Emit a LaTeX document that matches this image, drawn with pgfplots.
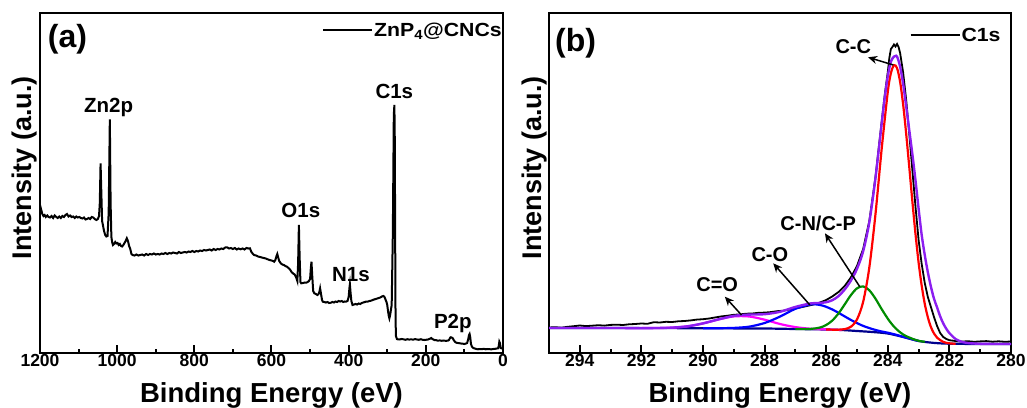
\documentclass[border=0pt]{standalone}
\usepackage{fontspec}
\setmainfont{Liberation Sans}
\usepackage{pgfplots}
\pgfplotsset{compat=1.18}
\usetikzlibrary{arrows.meta}
\newcommand{\fs}[1]{\fontsize{#1}{#1}\selectfont\bfseries}
\definecolor{cpurple}{RGB}{140,30,240}
\definecolor{cmag}{RGB}{255,0,255}
\definecolor{cnavy}{RGB}{0,0,140}
\definecolor{cblue}{RGB}{0,0,255}
\definecolor{cgreen}{RGB}{0,140,0}
\definecolor{cred}{RGB}{255,0,0}
\pgfplotsset{
  xps/.style={
    scale only axis, height=340pt, anchor=south west,
    x dir=reverse, ymin=0, ymax=340, ytick=\empty,
    axis line style={line width=2pt},
    major tick style={line width=2pt, black},
    minor tick style={line width=2pt, black},
    major tick length=8pt, minor tick length=4pt,
    xtick pos=left, tick align=inside, minor x tick num=1,
    /pgf/number format/assume math mode=true,
    /pgf/number format/1000 sep={},
    xticklabel style={font=\fs{17.5}, yshift=2pt},
    every axis x label/.style={at={(axis description cs:0.5,-0.147)}, anchor=base, font=\fs{27.5}},
    every axis y label/.style={at={(axis description cs:-0.0173,0.545)}, rotate=90, anchor=base, font=\fs{27}},
    xlabel={Binding Energy (eV)}, ylabel={Intensity (a.u.)},
    clip=false,
    legend style={draw=none, fill=none, font=\fs{19}, inner sep=0pt,
      nodes={inner sep=1pt}},
    legend image code/.code={\draw[#1, line width=1.8pt] (0pt,0pt) -- (49pt,0pt);},
  }
}
\begin{document}
\begin{tikzpicture}
\path[use as bounding box] (0,0) rectangle (1027pt,407pt);
% ---------------- (a) ----------------
\begin{axis}[xps, at={(40pt,54pt)}, width=463pt,
  xmin=0, xmax=1200, xtick={0,200,...,1200},
  legend style={at={(axis description cs:1,0.975)}, anchor=north east}]
\addplot[black, line width=2pt] coordinates {
(1200,148) (1198,145) (1196,142) (1194,139) (1191,137) (1188,138) (1185,136) (1181,137.5)
(1178,136) (1174,135.5) (1170,137) (1166,135) (1162,137.5) (1158,136) (1154,135) (1150,136.5)
(1146,135) (1142,137) (1138,136) (1134,138) (1130,139) (1126,136.5) (1122,137.5) (1118,136)
(1114,136.5) (1110,135) (1106,136.5) (1102,135.5) (1098,136) (1094,135) (1090,134.5) (1086,135.5)
(1082,133.5) (1078,134) (1074,135) (1070,134) (1066,136) (1062,135.5) (1058,134) (1054,133)
(1050,134) (1047,137) (1045,150) (1043,189.7) (1041,160) (1039,132) (1037,128) (1034,122)
(1031,118) (1028,116.5) (1025,117) (1022,140) (1019,233.7) (1017,150) (1015,116) (1013,111)
(1011,108) (1008,109) (1005,111) (1002,109.5) (999,110) (996,108) (993,109) (990,107)
(987,106.5) (984,108) (981,110) (978,112) (975,114.7) (972,112) (969,107) (966,104)
(963,99) (960,98) (955,97.5) (950,98.5) (945,97.5) (940,98) (935,98.5) (930,97.5)
(925,99) (920,98) (915,99) (910,98.5) (905,99.5) (900,98.5) (895,99) (890,98.5)
(885,99.5) (880,99) (875,100) (870,99) (865,100) (860,99.5) (855,100.5) (850,100)
(845,99.5) (840,101) (835,100) (830,100.5) (825,101) (820,100.5) (815,101.5) (810,101)
(805,102) (800,101) (795,102) (790,101.5) (785,102.5) (780,102) (775,103) (770,102.5)
(765,103) (760,103.5) (755,102.5) (750,104) (745,103) (740,104) (735,103.5) (730,104.5)
(725,104) (720,105.5) (715,105.7) (710,104.5) (705,105) (700,104) (695,105) (690,103.5)
(685,104.5) (680,103.7) (675,104.5) (670,103.5) (665,105) (660,104.5) (656,104.7) (652,101)
(648,99) (645,98) (640,97.5) (635,96.5) (630,96) (625,95.5) (620,95) (615,94.5)
(610,93.7) (605,93) (600,92.5) (596,92) (593,91.3) (590,93) (587,97) (585,99)
(583,96) (580,92) (576,89.7) (572,88.5) (568,88) (564,87) (560,86.3) (556,85)
(552,83.5) (548,81) (544,79.5) (540,78.5) (536,75.5) (533,72) (531,90) (529,128)
(527,95) (525,71) (523,69.7) (518,70) (514,70.5) (510,70.3) (506,71) (503,72)
(500,74) (498,85) (496.4,91.3) (494.5,78) (492,62) (489,59.7) (485,59) (481,58)
(478,59) (476,61) (474,64.7) (472,60) (469,53) (467,51.3) (463,51) (459,50.5)
(455,51) (451,50) (446,50.3) (442,51) (438,50.5) (434,51.5) (430,51) (426,52)
(422,51.5) (418,52) (414,51) (410,51.5) (407,51.3) (403,52) (400,56) (398,65)
(396.8,68.7) (395,60) (393,52) (390,48) (386,48.5) (382,49) (378,48.5) (374,49.5)
(370,49) (366,50) (362,50.5) (358,51) (354,51.5) (350,51.5) (346,52) (342,52.3)
(338,53) (334,53.5) (330,54) (326,54.5) (322,55) (318,55.5) (314,56.5) (310,57)
(307.5,56.3) (305,54) (302,51) (300,48) (298,42) (296,37) (294.5,34.7) (292.5,38)
(290.5,43) (288.5,48) (285.5,120) (283,238) (281.5,248) (280.5,215) (279.5,120) (278.5,35)
(277.5,17) (275,14) (272.8,13.7) (268,13.5) (263,14) (258,13.7) (253,13.2) (248,13.8)
(243,13.4) (238,13.7) (233,13.3) (228,13.9) (223,13.5) (218,13.2) (213,13.8) (208,13.2)
(203.5,13) (198,13.3) (194,13.5) (190,14.2) (186,15) (183,14) (178,13) (173,12.8)
(169,12.3) (164,12.6) (159,12.2) (154,12.5) (149,12.2) (143,12.3) (140,13) (138,14.5)
(136,15.7) (133,15.5) (130,14.7) (127,12.5) (124,11) (121,10.3) (117,10) (113,9.8)
(109,9.5) (104,9.3) (100,9) (96,9.5) (93,10) (90,14) (88,18) (86.6,19)
(85,16) (83,9) (80.5,6.3) (77,5) (73,4.5) (69,4) (65,3.7) (60,4)
(55,3.8) (50,4.2) (45,3.7) (40,4) (35,3.8) (30,3.7) (25,4) (20,4.2)
(16,4.5) (13,4.7) (11,7) (9.5,11.3) (8,10) (6,5) (4,4.7) (0,4.7)
};
\addlegendentry{\scalebox{1.12}[1]{ZnP\textsubscript{4}@CNCs}}
\node[font=\fs{32}] at (axis description cs:0.0594,0.924) {(a)};
\node[font=\fs{20.5}] at (axis cs:1022,246) {Zn2p};
\node[font=\fs{20.5}] at (axis cs:281.6,261.3) {C1s};
\node[font=\fs{20.5}] at (axis cs:524,143) {O1s};
\node[font=\fs{20.5}] at (axis cs:394,78) {N1s};
\node[font=\fs{20.5}] at (axis cs:130,29.7) {P2p};
\end{axis}
% ---------------- (b) ----------------
\begin{axis}[xps, at={(549pt,54pt)}, width=462pt,
  xmin=280, xmax=295, xtick={280,282,...,294},
  legend style={at={(axis description cs:0.98,0.96)}, anchor=north east}]
\addplot[black, line width=1.8pt] coordinates {
(295,25.5) (294.8,25.8) (294.6,25.3) (294.4,26.2) (294.2,26.8) (294,27.5) (293.8,26.9) (293.6,27.3)
(293.4,27.8) (293.2,27.4) (293,28.1) (292.8,28.3) (292.6,28.0) (292.4,28.7) (292.2,29.0) (292,29.5)
(291.8,29.2) (291.6,30.8) (291.4,30.5) (291.2,31.2) (291,31.0) (290.8,31.7) (290.6,32.0) (290.4,32.6)
(290.2,33.4) (290,33.8) (289.8,34.5) (289.6,35.6) (289.4,36.6) (289.2,37.3) (289,38.2) (288.8,38.6)
(288.6,39.3) (288.4,39.5) (288.2,40.2) (288,40.4) (287.8,40.9) (287.6,41.8) (287.4,42.3) (287.2,43.4)
(287,44.6) (286.8,45.8) (286.6,47.2) (286.4,48.6) (286.2,50.5) (286,53.0) (285.8,56.6) (285.6,61.0)
(285.4,67.0) (285.2,75.5) (285,87) (284.8,104) (284.6,132) (284.4,176) (284.2,231) (284.1,258)
(284,281) (283.95,295) (283.9,304) (283.85,306) (283.8,308.5) (283.75,306.5) (283.7,309) (283.65,306)
(283.6,300) (283.5,280) (283.4,252) (283.3,218) (283.2,182) (283.1,146) (283.0,113) (282.9,89)
(282.8,70) (282.7,56) (282.6,46) (282.5,36) (282.4,27) (282.3,20) (282.2,16) (282.1,14)
(282,12.8) (281.8,12) (281.6,11.4) (281.4,11.8) (281.2,11.2) (281,11.6) (280.8,11.9) (280.6,11.3)
(280.4,11.7) (280.2,11.2) (280,11.5)
};
\addlegendentry{\scalebox{1.12}[1]{C1s}}
\addplot[cnavy, line width=2.2pt, smooth, forget plot] coordinates {
(295,25) (292,24.9) (290,24.8) (289,24.6) (288,24.5) (287,24) (286,23.5) (285.5,23) (285,22)
(284.5,21) (284,19.5) (283.5,16) (283,12) (282.5,10.1) (282,9.3) (281,9) (280,9)
};
\addplot[cmag, line width=2.2pt, smooth, forget plot] coordinates {
(292.5,24.9) (292,24.9) (291.5,25.0) (291,25.35) (290.5,26.7) (290,29.6) (289.5,33.5) (289,36.6)
(288.5,36.5) (288,33.3) (287.5,29.0) (287,25.9) (286.5,24.25) (286,23.6) (285.5,23.0)
};
\addplot[cblue, line width=2.2pt, smooth, forget plot] coordinates {
(290,24.8) (289.5,24.8) (289,25.1) (288.5,26.35) (288,30.0) (287.5,36.4) (287,44.2) (286.5,48.6)
(286.2,48.0) (286,46.2) (285.8,43.5) (285.6,40.2) (285.4,36.6) (285.2,33.1) (285,29.9) (284.8,27.1)
(284.6,24.9) (284.4,23.05) (284.2,21.5) (284,20.3) (283.8,18.8) (283.6,17.1) (283.4,15.3) (283.2,13.7) (283,12.0)
};
\addplot[cgreen, line width=2.2pt, smooth, forget plot] coordinates {
(287,24.0) (286.5,24.1) (286.2,25.5) (286,28.0) (285.8,32.5) (285.6,39.6) (285.4,48.6) (285.2,57.8)
(285,64.7) (284.8,66.6) (284.6,62.7) (284.4,54.3) (284.2,43.9) (284,34.3) (283.9,30.1) (283.8,26.4)
(283.7,23.3) (283.6,20.7) (283.5,18.5) (283.4,16.8) (283.2,14.2) (283,12.2) (282.8,11.2)
};
\addplot[cred, line width=2.2pt, smooth, forget plot] coordinates {
(286,23.5) (285.8,23.35) (285.6,23.35) (285.4,23.9) (285.2,26.2) (285,33.6) (284.8,51.2) (284.6,85.5)
(284.4,138.9) (284.2,203.8) (284,261.3) (283.9,279.7) (283.8,287.8) (283.7,284.9) (283.6,271.1)
(283.5,248) (283.4,218.2) (283.3,184.9) (283.2,150.9) (283.1,118.8) (283,90.5) (282.9,67.4)
(282.8,49.2) (282.7,35.7) (282.6,26) (282.5,19.5) (282.4,15.3) (282.2,11.1) (282,9.7) (281.8,9.2)
};
\addplot[cpurple, line width=2.4pt, smooth, forget plot] coordinates {
(295,25) (294,25) (293,25) (292,24.9) (291.5,25.0) (291,25.4) (290.5,26.7) (290,29.6)
(289.5,33.6) (289,37.1) (288.5,38.4) (288,38.8) (287.5,41.2) (287,46.1) (286.5,49.6) (286.2,50.1)
(286,50.8) (285.8,52.8) (285.6,56.9) (285.4,63.5) (285.2,72.3) (285,84.2) (284.8,101.7) (284.6,130.7)
(284.4,174.9) (284.2,229) (284.1,255) (284,277) (283.9,291.4) (283.8,296.4) (283.75,297) (283.7,296.5)
(283.6,286.4) (283.5,268.8) (283.4,245.9) (283.3,222.1) (283.2,198.2) (283.1,172.3) (283,144.3)
(282.9,118.1) (282.8,98) (282.7,80.8) (282.6,66.3) (282.5,54.3) (282.4,45.6) (282.3,36.7)
(282.2,29.6) (282.1,24.2) (282,19.9) (281.8,14) (281.6,11.2) (281.4,10) (281.2,9.5) (281,9.2)
(280.5,9) (280,9)
};
\node[font=\fs{32}] at (axis description cs:0.0576,0.912) {(b)};
\node[font=\fs{20}] at (axis cs:285.12,306) {C-C};
\node[font=\fs{20}] at (axis cs:286.26,129.7) {C-N/C-P};
\node[font=\fs{20}] at (axis cs:287.83,98) {C-O};
\node[font=\fs{20}] at (axis cs:289.54,68) {C=O};
\draw[-{Stealth[length=9pt,width=8pt]}, line width=1.5pt] (axis cs:283.82,288) -- (axis cs:284.64,295.7);
\draw[-{Stealth[length=9pt,width=8pt]}, line width=1.5pt] (axis cs:284.91,66.3) -- (axis cs:286.04,119.7);
\draw[-{Stealth[length=9pt,width=8pt]}, line width=1.5pt] (axis cs:286.53,48) -- (axis cs:287.72,89.7);
\draw[-{Stealth[length=9pt,width=8pt]}, line width=1.5pt] (axis cs:288.75,38) -- (axis cs:289.29,56.3);
\end{axis}
\end{tikzpicture}
\end{document}
